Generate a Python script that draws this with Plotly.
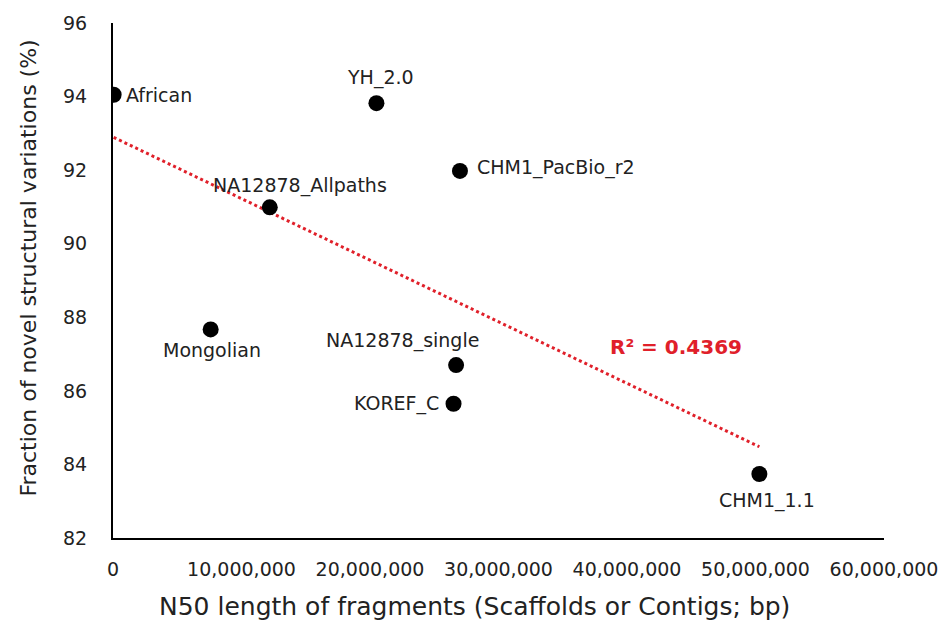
import numpy as np
import plotly.graph_objects as go

# Assemblies: N50 length (bp) vs fraction of novel structural variations (%)
names = ["African", "YH_2.0", "CHM1_PacBio_r2", "NA12878_Allpaths",
         "Mongolian", "NA12878_single", "KOREF_C", "CHM1_1.1"]
n50 = [50_000, 20_500_000, 27_000_000, 12_200_000,
       7_600_000, 26_700_000, 26_500_000, 50_300_000]
novel_pct = [94.05, 93.82, 91.98, 90.99, 87.67, 86.70, 85.65, 83.74]

x_ticks = [0, 10_000_000, 20_000_000, 30_000_000, 40_000_000, 50_000_000, 60_000_000]
y_ticks = [82, 84, 86, 88, 90, 92, 94, 96]
r2_text = "R² = 0.4369"
x_title = "N50 length of fragments (Scaffolds or Contigs; bp)"
y_title = "Fraction of novel structural variations (%)"

# label placement relative to each point: (xshift, yshift, xanchor)
label_pos = [
    (10, 0, "left"),
    (4, 26, "center"),
    (15, 3, "left"),
    (30, 22, "center"),
    (1, -21, "center"),
    (-54, 25, "center"),
    (-13, 0, "right"),
    (8, -27, "center"),
]

FONT = "DejaVu Sans"
INK = "#222222"
RED = "#E0202A"

# linear least-squares trendline over the data range
slope, intercept = np.polyfit(np.array(n50, float), np.array(novel_pct, float), 1)
tx = np.array([min(n50), max(n50)], float)
ty = slope * tx + intercept

fig = go.Figure()
fig.add_trace(go.Scatter(
    x=tx, y=ty, mode="lines",
    line=dict(color=RED, width=3, dash="dot"),
    hoverinfo="skip", showlegend=False,
))
fig.add_trace(go.Scatter(
    x=n50, y=novel_pct, mode="markers",
    marker=dict(color="black", size=16),
    text=names, showlegend=False,
))

for name, xv, yv, (dx, dy, xa) in zip(names, n50, novel_pct, label_pos):
    fig.add_annotation(
        x=xv, y=yv, text=name, showarrow=False,
        xshift=dx, yshift=dy, xanchor=xa, yanchor="middle",
        font=dict(family=FONT, size=19, color=INK),
    )

fig.add_annotation(
    x=43_800_000, y=87.2, text=r2_text, showarrow=False,
    font=dict(family=FONT, size=20, color=RED, weight="bold"),
)

# axis titles
fig.add_annotation(
    xref="paper", yref="paper", x=0.4685, y=-0.133,
    xanchor="center", yanchor="middle", text=x_title, showarrow=False,
    font=dict(family=FONT, size=25, color=INK),
)
fig.add_annotation(
    xref="paper", yref="paper", x=-0.109, y=0.525,
    xanchor="center", yanchor="middle", textangle=-90, text=y_title,
    showarrow=False, font=dict(family=FONT, size=22, color=INK),
)

fig.update_layout(
    width=950, height=637,
    margin=dict(l=113, r=58, t=16, b=99),
    paper_bgcolor="white", plot_bgcolor="white",
    font=dict(family=FONT, size=19, color=INK),
    xaxis=dict(
        range=[0, 60_000_000], tickvals=x_ticks,
        tickformat=",d", showgrid=False, zeroline=False,
        showline=True, linecolor="black", linewidth=2,
        ticks="", ticklabelstandoff=13,
    ),
    yaxis=dict(
        range=[82, 96], tickvals=y_ticks, showgrid=False, zeroline=False,
        showline=True, linecolor="black", linewidth=2,
        ticks="", ticklabelstandoff=20,
    ),
)

fig.write_html("out.html")
